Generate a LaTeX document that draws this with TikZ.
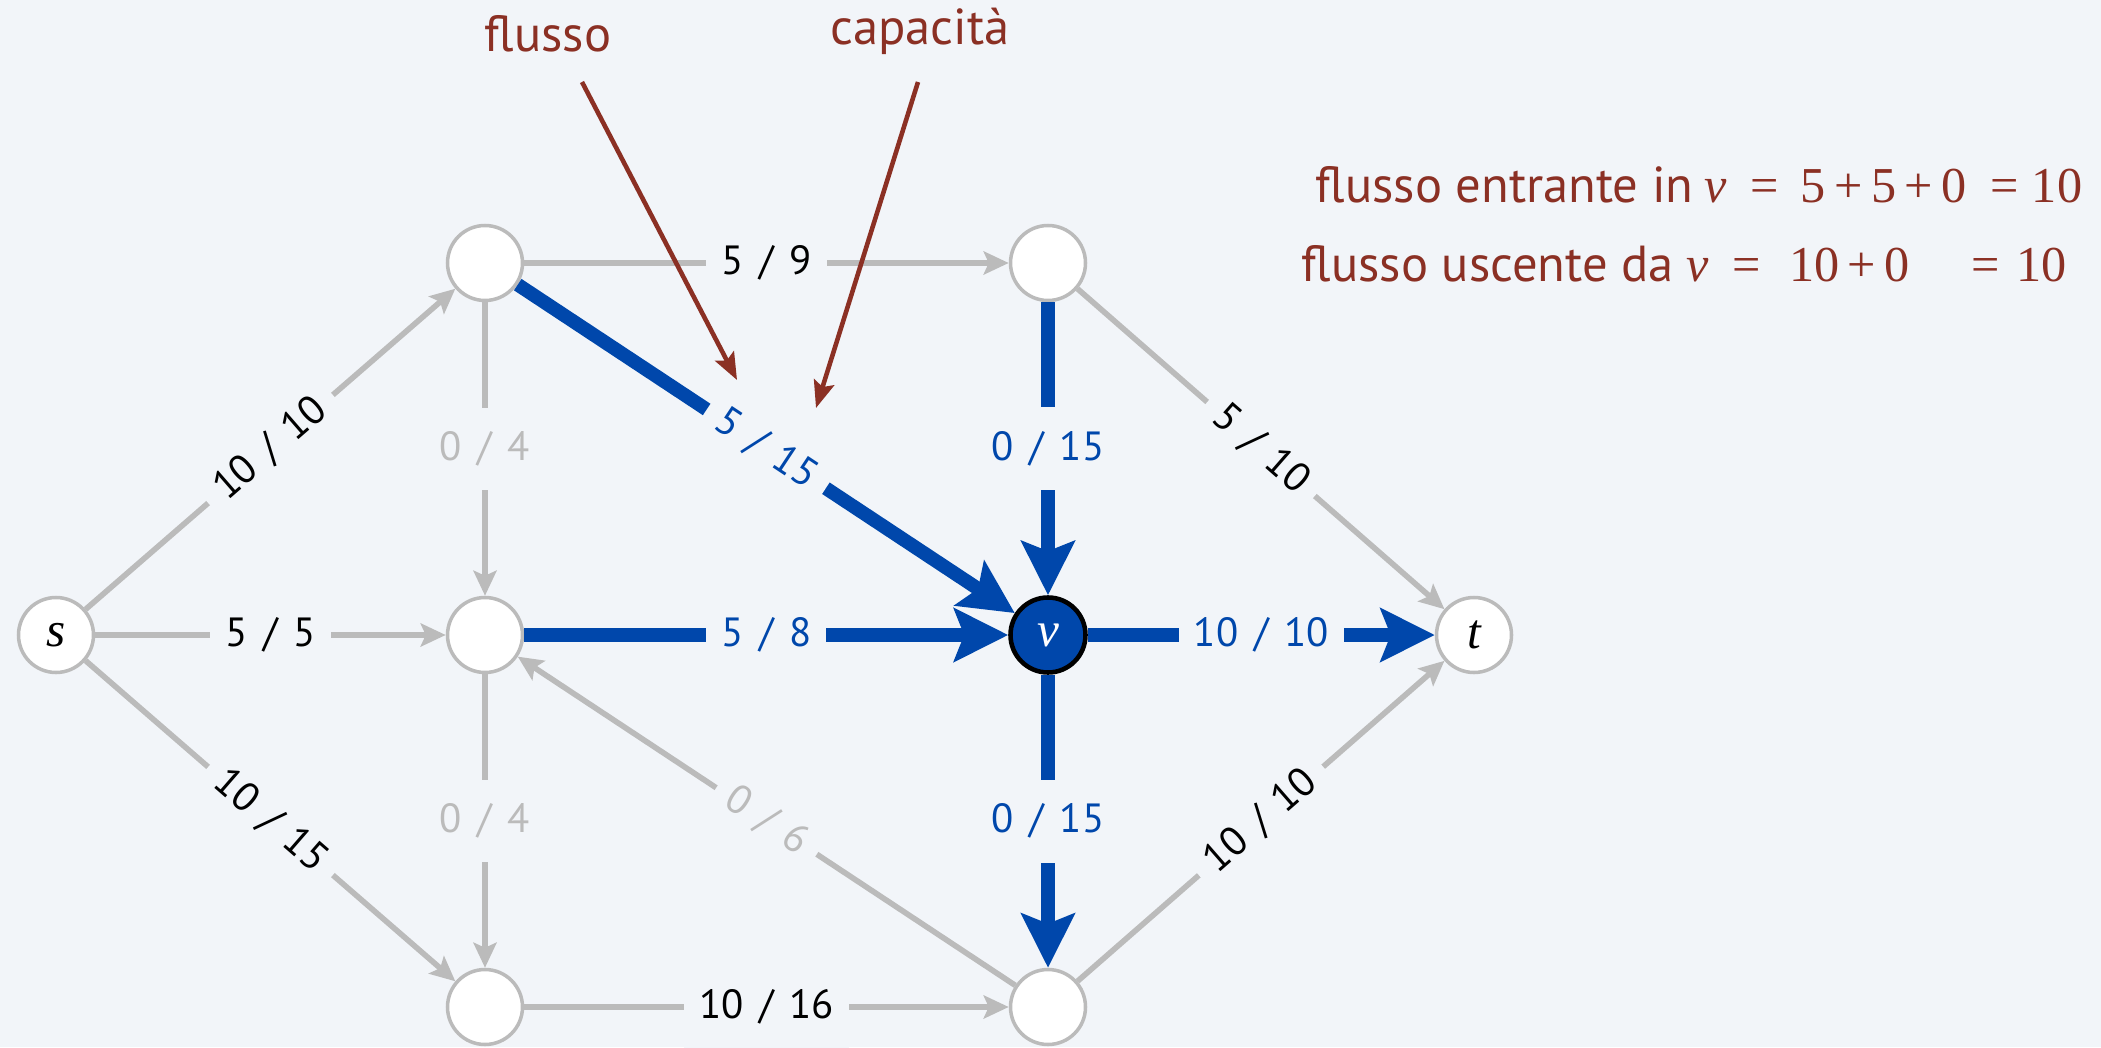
\documentclass[tikz,border=0pt]{standalone}
\usepackage{fontspec}
\setmainfont{PT Sans}
\newfontfamily\lblfont{PT Sans}[WordSpace=1.45]
\newfontfamily\serifmath{Liberation Serif}
\usetikzlibrary{positioning,arrows.meta}
\definecolor{bgcol}{RGB}{242,245,249}
\definecolor{edgegray}{RGB}{187,187,187}
\definecolor{flowblue}{RGB}{0,71,171}
\definecolor{notered}{RGB}{139,48,36}

\begin{document}
\begin{tikzpicture}[on grid,
    vtx/.style={circle,draw=edgegray,line width=1pt,fill=white,minimum size=0.75cm,inner sep=0pt,font=\serifmath\itshape\fontsize{14}{14}\selectfont},
    vtxhot/.style={vtx,draw=black,line width=1.3pt,fill=flowblue,text=white},
    grayedge/.style={draw=edgegray,line width=1.6pt,-{Stealth[length=0.25cm,width=0.23cm,inset=0.05cm]}},
    blueedge/.style={draw=flowblue,line width=3.9pt,-{Stealth[length=0.54cm,width=0.53cm,inset=0.1cm]}},
    lbl/.style={fill=bgcol,inner xsep=0.15cm,inner ysep=0.24cm,font=\lblfont\fontsize{11.6}{13}\selectfont},
    lblgray/.style={lbl,text=edgegray},
    lblblue/.style={lbl,text=flowblue},
    note/.style={draw=notered,line width=1.3pt,-{Stealth[length=0.27cm,width=0.21cm,inset=0.05cm]}},
    notetext/.style={text=notered,font=\fontsize{14.4}{16}\selectfont}]
    \fill[bgcol] (0,0) rectangle (21.01,10.47);
    \useasboundingbox (0,0) rectangle (21.01,10.47);

    \node[vtx] (s) at (0.56,4.12) {s};
    \node[vtx,right=4.29cm of s] (B) {};
    \node[vtx,above=3.72cm of B] (A) {};
    \node[vtx,below=3.72cm of B] (C) {};
    \node[vtxhot,right=5.63cm of B] (v) {v};
    \node[vtx,above=3.72cm of v] (D) {};
    \node[vtx,below=3.72cm of v] (E) {};
    \node[vtx,right=4.26cm of v] (t) {t};

    \draw[grayedge] (s) -- node[lbl,sloped] {10 / 10} (A);
    \draw[grayedge] (s) -- node[lbl] {5 / 5} (B);
    \draw[grayedge] (s) -- node[lbl,sloped] {10 / 15} (C);
    \draw[grayedge] (A) -- node[lbl] {5 / 9} (D);
    \draw[grayedge] (A) -- node[lblgray] {0 / 4} (B);
    \draw[grayedge] (B) -- node[lblgray] {0 / 4} (C);
    \draw[grayedge] (E) -- node[lblgray,sloped] {0 / 6} (B);
    \draw[grayedge] (C) -- node[lbl] {10 / 16} (E);
    \draw[grayedge] (D) -- node[lbl,sloped] {5 / 10} (t);
    \draw[grayedge] (E) -- node[lbl,sloped] {10 / 10} (t);
    \draw[blueedge] (A) -- node[lblblue,sloped] {5 / 15} (v);
    \draw[blueedge] (D) -- node[lblblue] {0 / 15} (v);
    \draw[blueedge] (B) -- node[lblblue] {5 / 8} (v);
    \draw[blueedge] (v) -- node[lblblue] {10 / 10} (t);
    \draw[blueedge] (v) -- node[lblblue] {0 / 15} (E);

    \node[notetext,anchor=base] (flowtxt) at (5.48,9.95) {flusso};
    \node[notetext,anchor=base] (captxt) at (9.20,10.02) {capacità};
    \coordinate (flowfrom) at (5.82,9.65);
    \coordinate (flowto) at (7.37,6.67);
    \coordinate (capfrom) at (9.18,9.65);
    \coordinate (capto) at (8.16,6.39);
    \draw[note] (flowfrom) -- (flowto);
    \draw[note] (capfrom) -- (capto);

    \node[notetext,anchor=base west,inner sep=0pt] (inflow) at (13.15,8.44)
        {flusso entrante in\hspace{0.11cm}{\serifmath\fontsize{14.3}{16}\selectfont
         \textit{v}\hspace{0.24cm}=\hspace{0.22cm}5\,+\,5\,+\,0\hspace{0.24cm}=\hspace{0.13cm}10}};
    \node[notetext,anchor=base west,inner sep=0pt] (outflow) at (13.01,7.65)
        {flusso uscente da\hspace{0.13cm}{\serifmath\fontsize{14.3}{16}\selectfont
         \textit{v}\hspace{0.24cm}=\hspace{0.28cm}10\,+\,0\hspace{0.62cm}=\hspace{0.16cm}10}};
\end{tikzpicture}
\end{document}
